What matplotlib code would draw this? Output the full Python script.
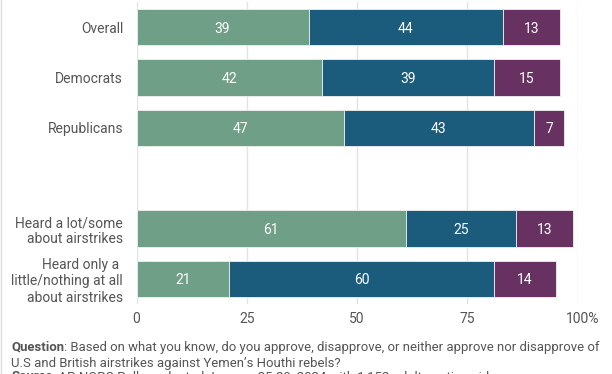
import matplotlib
matplotlib.use("Agg")
import matplotlib.pyplot as plt
from matplotlib.lines import Line2D

plt.rcParams['font.family'] = ['Roboto', 'DejaVu Sans']

categories = ["Overall", "Democrats", "Republicans",
              "Heard a lot/some\nabout airstrikes",
              "Heard only a \nlittle/nothing at all\nabout airstrikes"]
approve = [39, 42, 47, 61, 21]
disapprove = [44, 39, 43, 25, 60]
neither = [13, 15, 7, 13, 14]
positions = [0, 1, 2, 4, 5]
xticks = [0, 25, 50, 75, 100]
xticklabels = ["0", "25", "50", "75", "100"]
question_bold = "Question"
question_rest = ": Based on what you know, do you approve, disapprove, or neither approve nor disapprove of"
question_line2 = "U.S and British airstrikes against Yemen\u2019s Houthi rebels?"
source_bold = "Source"
source_rest = ": AP-NORC Poll conducted January 25-29, 2024 with 1,152 adults nationwide."

colors = ["#6f9f86", "#1b5b7b", "#673262"]
text_gray = "#555555"

fig = plt.figure(figsize=(6.12, 3.74), dpi=100)
ax = fig.add_axes([136.5 / 612, 1 - 304 / 374, 441.2 / 612, 302 / 374])

left = [0] * len(approve)
for series, col in zip([approve, disapprove, neither], colors):
    bars = ax.barh(positions, series, left=left, height=0.72, color=col,
                   edgecolor="#f0f0f0", linewidth=0.6, zorder=3)
    for b, v, l in zip(bars, series, left):
        ax.text(l + v / 2, b.get_y() + b.get_height() / 2, str(v),
                ha="center", va="center_baseline", color="white",
                fontsize=10, zorder=4)
    left = [a + b for a, b in zip(left, series)]

ax.set_xlim(0, 100)
ax.set_ylim(5.5, -0.5)
ax.set_yticks(positions)
ax.set_yticklabels(categories)
ax.set_xticks(xticks)
ax.set_xticklabels(xticklabels)
ax.tick_params(axis="both", length=0, labelsize=10, labelcolor=text_gray)
ax.tick_params(axis="y", pad=9.7)
ax.tick_params(axis="x", pad=6)
ax.grid(axis="x", color="#e3e3e3", linewidth=1, zorder=0)
for s in ax.spines.values():
    s.set_visible(False)

# "100%" with the "100" centred on its tick
fig.canvas.draw()
r = fig.canvas.get_renderer()
lbl = ax.get_xticklabels()[-1]
bb = lbl.get_window_extent(r)
lbl.set_visible(False)
fig.text(bb.x0, bb.y0, xticklabels[-1] + "%", transform=None, ha="left", va="bottom",
         fontsize=10, color=text_gray)

# footnotes: fit the first line to the reference width (11 -> 598 px)
fs = 10
q = fig.text(11 / 612, 1 - 350.7 / 374, question_bold, fontsize=fs, fontweight="bold",
             color=text_gray, va="baseline", ha="left")
qa = ax.annotate(question_rest, xy=(1, 0), xycoords=q, va="bottom", ha="left",
                 fontsize=fs, color=text_gray, annotation_clip=False)
fig.canvas.draw()
total = q.get_window_extent(r).width + qa.get_window_extent(r).width
fs = fs * 587.0 / total
q.set_fontsize(fs)
qa.set_fontsize(fs)
fig.text(11 / 612, 1 - 366.7 / 374, question_line2,
         fontsize=fs, color=text_gray, va="baseline", ha="left")
s = fig.text(11 / 612, 1 - 380.5 / 374, source_bold, fontsize=fs, fontweight="bold",
             color=text_gray, va="baseline", ha="left")
ax.annotate(source_rest, xy=(1, 0), xycoords=s, va="bottom", ha="left",
            fontsize=fs, color=text_gray, annotation_clip=False)

fig.add_artist(Line2D([0.8 / 612, 0.8 / 612], [0, 1], transform=fig.transFigure,
                      color="#dddddd", linewidth=1))

fig.savefig("out.png", dpi=100)
